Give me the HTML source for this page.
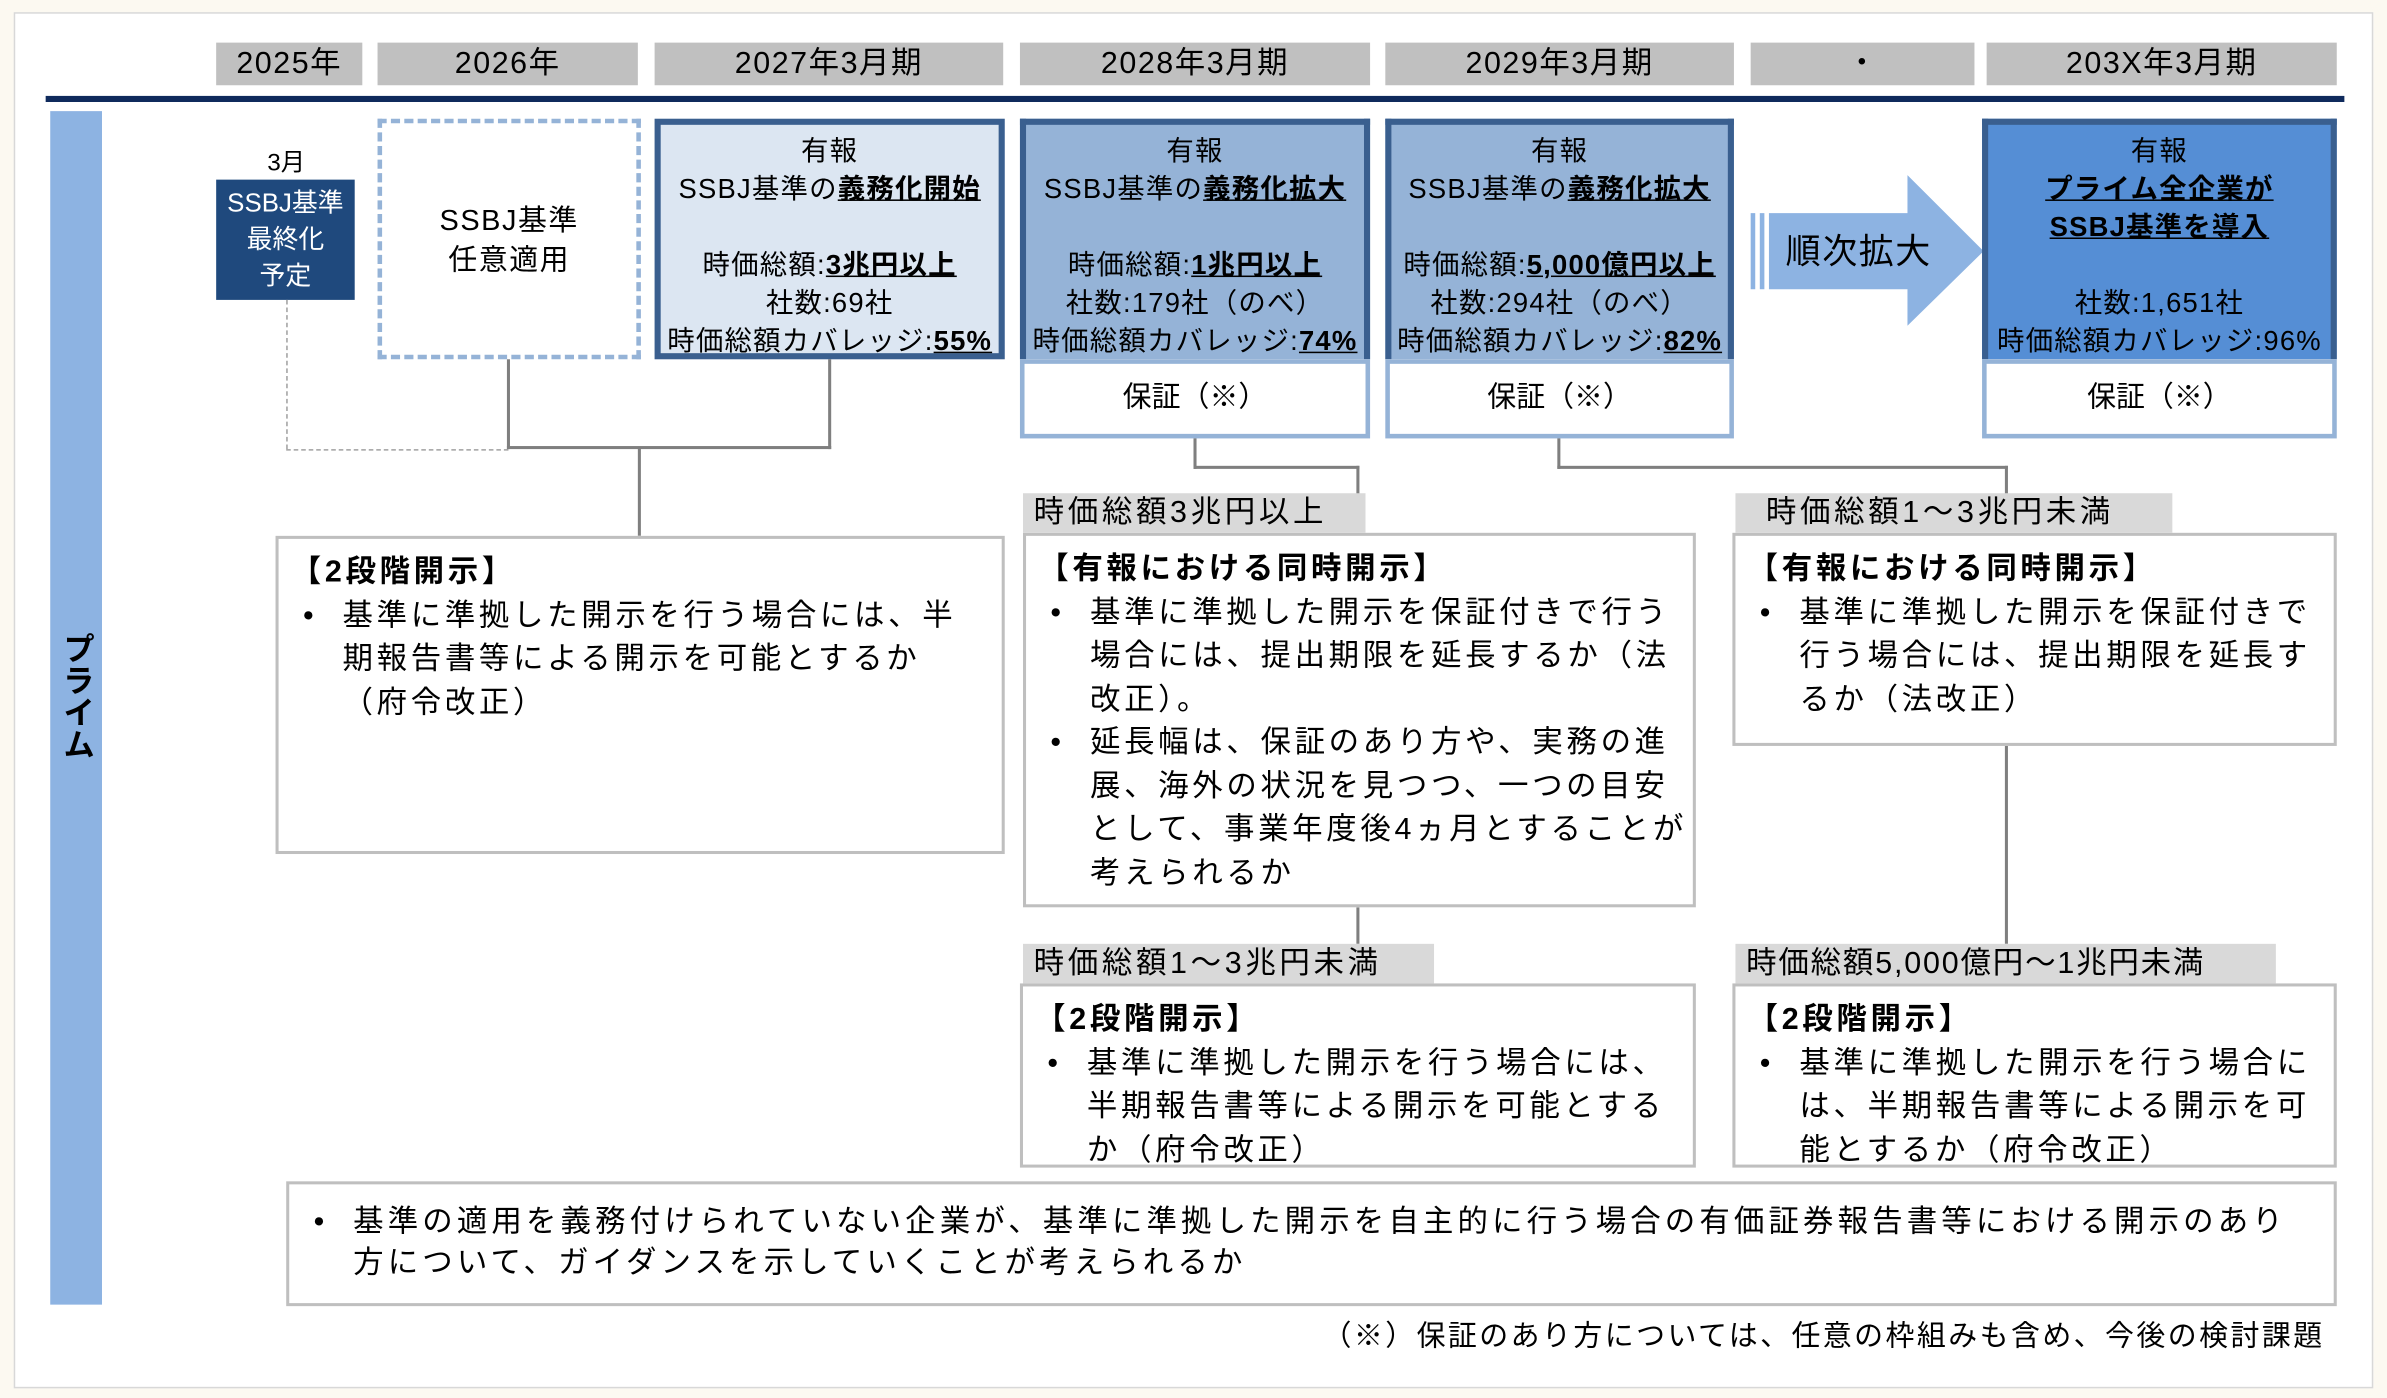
<!DOCTYPE html>
<html><head><meta charset="utf-8"><style>
html,body{margin:0;padding:0;background:#fcf9f1;}
body{width:2387px;height:1397px;overflow:hidden;position:relative;}
#s{position:absolute;left:0;top:0;width:1568px;height:918px;transform:scale(1.52232);transform-origin:0 0;font-family:"Liberation Sans","Noto Sans CJK JP",sans-serif;color:#000;}
#s div{position:absolute;box-sizing:border-box;}
.yr{background:#c0c0c0;top:28px;height:28px;font-size:20px;line-height:28px;text-align:center;letter-spacing:1px;}
.bx{border:4px solid #3a5f8f;text-align:center;font-size:18px;line-height:25px;padding-top:5px;white-space:nowrap;letter-spacing:0.8px;}
.gu{border:3px solid #95b3d7;background:#fff;text-align:center;font-size:19px;line-height:46px;}
.gl{background:#7f7f7f;}
.wb{border:2px solid #bfbfbf;background:#fff;font-size:20px;line-height:28.5px;padding:8px 0 0 8px;white-space:nowrap;overflow:visible;letter-spacing:2.4px;}
.lab{background:#d9d9d9;font-size:20px;line-height:26px;padding-left:7px;white-space:nowrap;letter-spacing:2.4px;}
.b{font-weight:bold;}
.u{text-decoration:underline;font-weight:bold;}
ul{margin:0;padding:0;list-style:none;}
li{position:relative;padding-left:34px;}
li:before{content:"•";position:absolute;left:8px;}
</style></head><body><div id="s">
<div style="left:9px;top:8px;width:1550px;height:904px;background:#fff;border:1px solid #d8d8d8;"></div>

<div class="yr" style="left:142px;width:96px;">2025年</div>
<div class="yr" style="left:248px;width:171px;">2026年</div>
<div class="yr" style="left:430px;width:229px;">2027年3月期</div>
<div class="yr" style="left:670px;width:230px;">2028年3月期</div>
<div class="yr" style="left:910px;width:229px;">2029年3月期</div>
<div class="yr" style="left:1150px;width:147px;">・</div>
<div class="yr" style="left:1305px;width:230px;">203X年3月期</div>
<div style="left:30px;top:63px;width:1510px;height:4px;background:#0f2a5c;"></div>

<div style="left:33px;top:73px;width:34px;height:784px;background:#8db3e2;"></div>
<div style="left:33px;top:415px;width:34px;font-size:21px;font-weight:bold;writing-mode:vertical-rl;line-height:34px;">プライム</div>

<div style="left:160px;top:93px;width:56px;text-align:center;font-size:16px;">3月</div>
<div style="left:142px;top:118px;width:91px;height:79px;background:#1f497d;color:#fff;font-size:17px;line-height:24px;text-align:center;padding-top:4px;">SSBJ基準<br>最終化<br>予定</div>

<div style="left:248px;top:78px;width:173px;height:158px;border:3px dashed #95b3d7;text-align:center;font-size:19px;line-height:26px;padding-top:52px;letter-spacing:1px;">SSBJ基準<br>任意適用</div>

<div class="bx" style="left:430px;top:78px;width:230px;height:158px;background:#dce6f2;">有報<br>SSBJ基準の<span class="u">義務化開始</span><br>&nbsp;<br>時価総額:<span class="u">3兆円以上</span><br>社数:69社<br>時価総額カバレッジ:<span class="u">55%</span></div>

<div class="bx" style="left:670px;top:78px;width:230px;height:158px;background:#95b3d7;border-bottom:none;">有報<br>SSBJ基準の<span class="u">義務化拡大</span><br>&nbsp;<br>時価総額:<span class="u">1兆円以上</span><br>社数:179社（のべ）<br>時価総額カバレッジ:<span class="u">74%</span></div>
<div class="gu" style="left:670px;top:236px;width:230px;height:52px;">保証（※）</div>

<div class="bx" style="left:910px;top:78px;width:229px;height:158px;background:#95b3d7;border-bottom:none;">有報<br>SSBJ基準の<span class="u">義務化拡大</span><br>&nbsp;<br>時価総額:<span class="u">5,000億円以上</span><br>社数:294社（のべ）<br>時価総額カバレッジ:<span class="u">82%</span></div>
<div class="gu" style="left:910px;top:236px;width:229px;height:52px;">保証（※）</div>

<svg style="position:absolute;left:1148px;top:112px;" width="160" height="104">
<rect x="2" y="28" width="3" height="50" fill="#8db3e2"/>
<rect x="8" y="28" width="3" height="50" fill="#8db3e2"/>
<polygon points="14,28 105,28 105,3 155,53 105,102 105,78 14,78" fill="#8db3e2"/>
</svg>
<div style="left:1173px;top:150px;font-size:23px;line-height:30px;letter-spacing:1px;">順次拡大</div>

<div class="bx" style="left:1302px;top:78px;width:233px;height:158px;background:#558ed5;border-bottom:none;">有報<br><span class="u">プライム全企業が</span><br><span class="u">SSBJ基準を導入</span><br>&nbsp;<br>社数:1,651社<br>時価総額カバレッジ:96%</div>
<div class="gu" style="left:1302px;top:236px;width:233px;height:52px;">保証（※）</div>

<!-- connectors -->
<div style="left:188px;top:197px;width:0;height:98px;border-left:1px dashed #a0a0a0;"></div>
<div style="left:188px;top:295px;width:146px;height:0;border-top:1px dashed #a0a0a0;"></div>
<div class="gl" style="left:333px;top:236px;width:2px;height:59px;"></div>
<div class="gl" style="left:544px;top:236px;width:2px;height:59px;"></div>
<div class="gl" style="left:333px;top:293px;width:213px;height:2px;"></div>
<div class="gl" style="left:419px;top:294px;width:2px;height:58px;"></div>
<div class="gl" style="left:784px;top:288px;width:2px;height:20px;"></div>
<div class="gl" style="left:784px;top:306px;width:109px;height:2px;"></div>
<div class="gl" style="left:891px;top:306px;width:2px;height:19px;"></div>
<div class="gl" style="left:1023px;top:288px;width:2px;height:20px;"></div>
<div class="gl" style="left:1023px;top:306px;width:296px;height:2px;"></div>
<div class="gl" style="left:1317px;top:306px;width:2px;height:19px;"></div>
<div class="gl" style="left:891px;top:596px;width:2px;height:24px;"></div>
<div class="gl" style="left:1317px;top:490px;width:2px;height:130px;"></div>

<div class="wb" style="left:181px;top:352px;width:479px;height:209px;"><span class="b">【2段階開示】</span><ul><li>基準に準拠した開示を行う場合には、半<br>期報告書等による開示を可能とするか<br>（府令改正）</li></ul></div>

<div class="lab" style="left:672px;top:324px;width:225px;">時価総額3兆円以上</div>
<div class="wb" style="left:672px;top:350px;width:442px;height:246px;padding-top:8px;"><span class="b">【有報における同時開示】</span><ul><li>基準に準拠した開示を保証付きで行う<br>場合には、提出期限を延長するか（法<br>改正）。</li><li>延長幅は、保証のあり方や、実務の進<br>展、海外の状況を見つつ、一つの目安<br>として、事業年度後4ヵ月とすることが<br>考えられるか</li></ul></div>

<div class="lab" style="left:1140px;top:324px;width:287px;padding-left:20px;">時価総額1～3兆円未満</div>
<div class="wb" style="left:1138px;top:350px;width:397px;height:140px;"><span class="b">【有報における同時開示】</span><ul><li>基準に準拠した開示を保証付きで<br>行う場合には、提出期限を延長す<br>るか（法改正）</li></ul></div>

<div class="lab" style="left:672px;top:620px;width:270px;">時価総額1～3兆円未満</div>
<div class="wb" style="left:670px;top:646px;width:444px;height:121px;"><span class="b">【2段階開示】</span><ul><li>基準に準拠した開示を行う場合には、<br>半期報告書等による開示を可能とする<br>か（府令改正）</li></ul></div>

<div class="lab" style="left:1140px;top:620px;width:355px;letter-spacing:1.2px;">時価総額5,000億円～1兆円未満</div>
<div class="wb" style="left:1138px;top:646px;width:397px;height:121px;"><span class="b">【2段階開示】</span><ul><li>基準に準拠した開示を行う場合に<br>は、半期報告書等による開示を可<br>能とするか（府令改正）</li></ul></div>

<div class="wb" style="left:188px;top:776px;width:1347px;height:82px;padding-top:12px;line-height:27px;letter-spacing:2.7px;"><ul><li>基準の適用を義務付けられていない企業が、基準に準拠した開示を自主的に行う場合の有価証券報告書等における開示のあり<br>方について、ガイダンスを示していくことが考えられるか</li></ul></div>

<div style="left:700px;top:866px;width:827px;text-align:right;font-size:19px;line-height:26px;white-space:nowrap;letter-spacing:1.6px;">（※）保証のあり方については、任意の枠組みも含め、今後の検討課題</div>
</div></body></html>
